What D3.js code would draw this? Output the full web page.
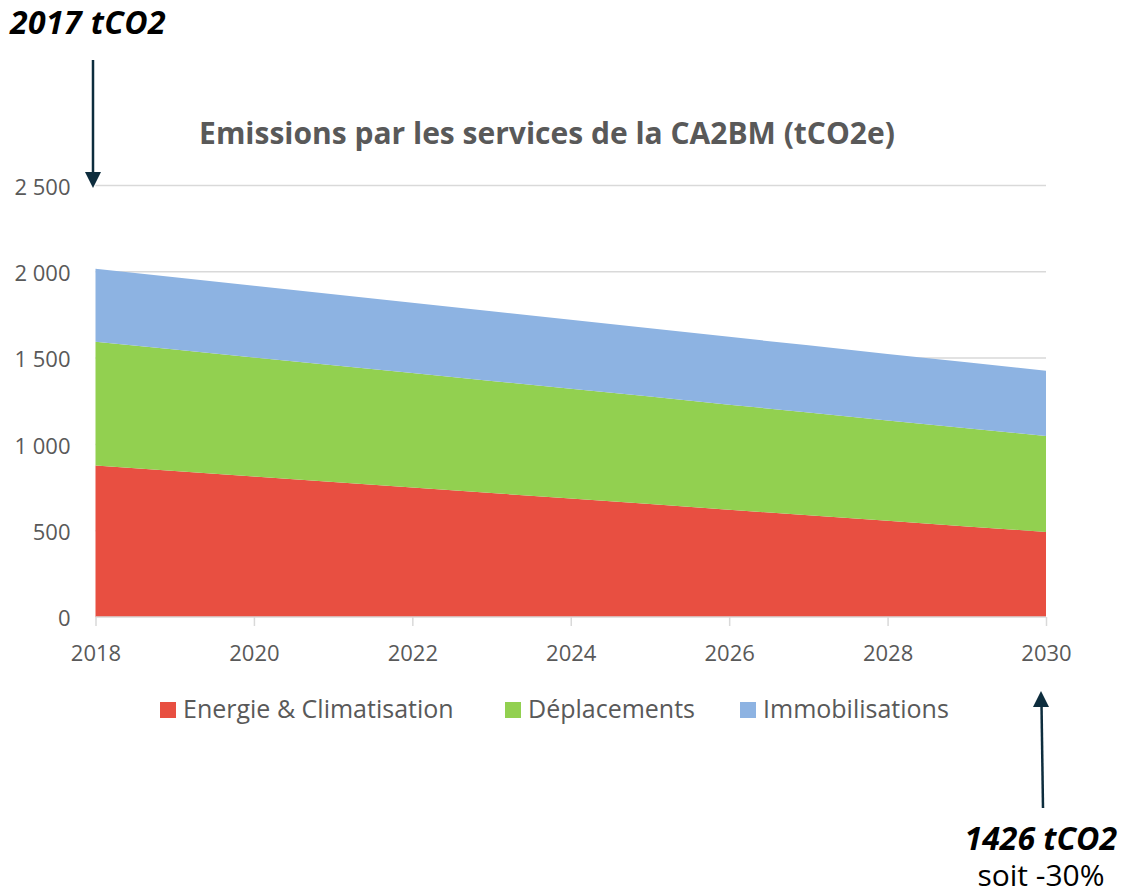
<!DOCTYPE html>
<html><head><meta charset="utf-8">
<script src="https://cdn.jsdelivr.net/npm/d3@7"></script>
<style>
body{margin:0;background:#fff;}
svg{display:block;font-family:"Open Sans","Noto Sans",sans-serif;}
</style></head>
<body>
<svg id="c" width="1122" height="892"></svg>
<script>
const years = [2018,2019,2020,2021,2022,2023,2024,2025,2026,2027,2028,2029,2030];
const energie = [878,846,814,782,750,718,686,654,621,589,557,525,493];
const deplacements = [717,704,690,677,663,650,636,623,609,596,582,569,555];
const immobilisations = [422,418,415,411,407,404,400,396,393,389,385,382,378];
const seriesNames = ["Energie & Climatisation","Déplacements","Immobilisations"];
const seriesColors = ["#e84f41","#92d050","#8db3e2"];
const yTicks = [0,500,1000,1500,2000,2500];
const xTicks = [2018,2020,2022,2024,2026,2028,2030];
const title = "Emissions par les services de la CA2BM (tCO2e)";
const startLabel = "2017 tCO2";
const endLabel = "1426 tCO2";
const endSub = "soit -30%";

const svg = d3.select("#c");
const x = d3.scaleLinear().domain([2018,2030]).range([95.5,1046]);
const y = d3.scaleLinear().domain([0,2500]).range([617,185.5]);

const table = years.map((yr,i)=>({year:yr, e:energie[i], d:deplacements[i], m:immobilisations[i]}));
const stack = d3.stack().keys(["e","d","m"])(table);

// grid
svg.append("g").selectAll("line").data(yTicks.filter(t=>t>0)).join("line")
  .attr("x1",x(2018)).attr("x2",x(2030)).attr("y1",d=>y(d)).attr("y2",d=>y(d))
  .attr("stroke","#d9d9d9").attr("stroke-width",1.5);

const area = d3.area().x(d=>x(d.data.year)).y0(d=>y(d[0])).y1(d=>y(d[1]));
svg.append("g").selectAll("path").data(stack).join("path")
  .attr("d",area).attr("fill",(d,i)=>seriesColors[i]);

// x axis
const xa = svg.append("g").attr("transform",`translate(0,${y(0)})`)
  .call(d3.axisBottom(x).tickValues(xTicks).tickFormat(d3.format("d")).tickSize(9).tickPadding(19));
xa.select(".domain").attr("stroke","#d9d9d9").attr("stroke-width",1.5).attr("d",`M${x(2018)},0H${x(2030)}`);
xa.selectAll(".tick line").attr("stroke","#d9d9d9").attr("stroke-width",1.5);
xa.selectAll("text").attr("fill","#595959").style("font-size","22px").style("font-family",'"Open Sans",sans-serif');

// y axis labels
const fmt = d=> d3.format(",")(d).replace(/,/g," ");
const ya = svg.append("g").attr("transform",`translate(${x(2018)},0)`)
  .call(d3.axisLeft(y).tickValues(yTicks).tickFormat(fmt).tickSize(0).tickPadding(25));
ya.select(".domain").remove();
ya.selectAll("text").attr("fill","#595959").attr("dy","0.4em").style("font-size","22px").style("font-family",'"Open Sans",sans-serif');

// title
svg.append("text").attr("x",547).attr("y",144).attr("text-anchor","middle")
  .attr("fill","#595959").style("font-size","30px").style("font-weight","bold").text(title);

// legend
const legX = [160,505,740];
const lg = svg.append("g").selectAll("g").data(seriesNames).join("g")
  .attr("transform",(d,i)=>`translate(${legX[i]},702)`);
lg.append("rect").attr("width",16).attr("height",16).attr("fill",(d,i)=>seriesColors[i]);
lg.append("text").attr("x",23).attr("y",16).attr("fill","#595959").style("font-size","25px").text(d=>d);

// annotations
svg.append("text").attr("x",10).attr("y",34).style("font-size","32px").style("font-weight","bold")
  .style("font-style","italic").style("letter-spacing","0.4px").attr("fill","#000").text(startLabel);
svg.append("line").attr("x1",93).attr("y1",60).attr("x2",93).attr("y2",175)
  .attr("stroke","#0d2d3d").attr("stroke-width",2.5);
svg.append("path").attr("d","M85,172L101,172L93,188Z").attr("fill","#0d2d3d");
svg.append("line").attr("x1",1043).attr("y1",808).attr("x2",1041.5).attr("y2",704)
  .attr("stroke","#0d2d3d").attr("stroke-width",2.5);
svg.append("path").attr("d","M1033,707L1049,707L1041,691Z").attr("fill","#0d2d3d");
svg.append("text").attr("x",1117).attr("y",850).attr("text-anchor","end").style("font-size","32px")
  .style("font-weight","bold").style("font-style","italic").attr("fill","#000").text(endLabel);
svg.append("text").attr("x",1041).attr("y",886).attr("text-anchor","middle").style("font-size","30px")
  .attr("fill","#000").text(endSub);
</script>
</body></html>
